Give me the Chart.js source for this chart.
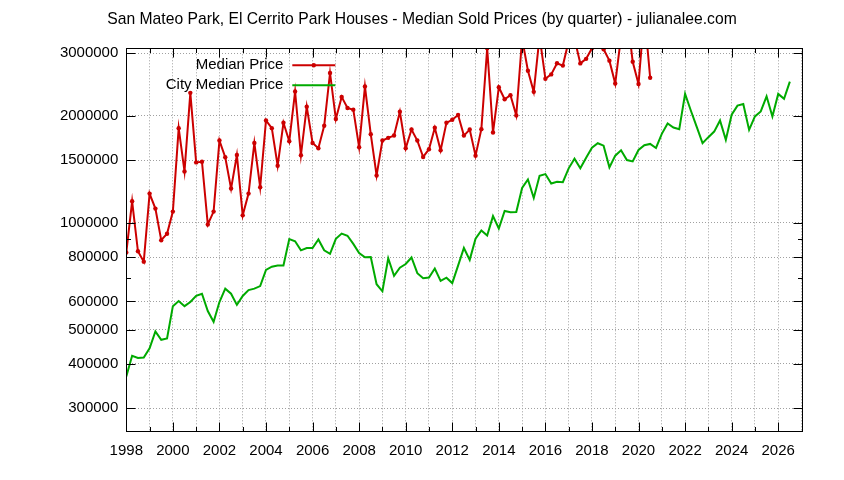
<!DOCTYPE html>
<html>
<head>
<meta charset="utf-8">
<title>San Mateo Park, El Cerrito Park Houses - Median Sold Prices</title>
<script src="https://cdn.jsdelivr.net/npm/chart.js@4.4.1/dist/chart.umd.min.js"></script>
<style>
  body { margin: 0; background: #fff; }
  canvas { display: block; }
</style>
</head>
<body>
<canvas id="priceChart" width="844" height="480"></canvas>
<script>
// quarterly medians, starting with Q1 1998
const firstYear = 1998;
const titleText = "San Mateo Park, El Cerrito Park Houses - Median Sold Prices (by quarter) - julianalee.com";
const seriesNames = ["Median Price", "City Median Price"];

const medianPrice = [
    824000, 1149000, 831000, 777000, 1208000, 1096000, 893000, 931000,
    1075000, 1847000, 1395000, 2322000, 1479000, 1485000, 989000, 1075000,
    1704000, 1529000, 1248000, 1552000, 1049000, 1208000, 1678000, 1259000,
    1941000, 1847000, 1447000, 1912000, 1697000, 2342000, 1549000, 2123000,
    1678000, 1621000, 1875000, 2642000, 1959000, 2262000, 2105000, 2082000,
    1632000, 2419000, 1776000, 1359000, 1704000, 1734000, 1760000, 2054000,
    1621000, 1830000, 1704000, 1532000, 1611000, 1851000, 1600000, 1912000,
    1950000, 2011000, 1760000, 1830000, 1545000, 1835000, 3100000, 1795000,
    2408000, 2227000, 2288000, 2006000, 3300000, 2681000, 2337000, 3350000,
    2544000, 2617000, 2814000, 2771000, 3250000, 3300000, 2811000, 2895000,
    3100000, 3400000, 3080000, 2861000, 2467000, 3350000, 3900000, 2842000,
    2460000, 3900000, 2561000,
];

const cityMedianPrice = [
    369000, 422000, 416000, 417000, 443000, 494000, 468000, 472000,
    582000, 602000, 582000, 598000, 622000, 631000, 564000, 526000,
    598000, 652000, 631000, 587000, 622000, 646000, 652000, 663000,
    736000, 752000, 758000, 758000, 899000, 887000, 836000, 849000,
    849000, 897000, 836000, 817000, 901000, 932000, 919000, 872000,
    822000, 799000, 801000, 671000, 641000, 794000, 709000, 747000,
    765000, 798000, 721000, 698000, 701000, 743000, 686000, 700000,
    676000, 757000, 849000, 786000, 901000, 951000, 920000, 1044000,
    963000, 1079000, 1070000, 1072000, 1253000, 1324000, 1174000, 1356000,
    1371000, 1290000, 1304000, 1301000, 1423000, 1515000, 1423000, 1525000,
    1627000, 1675000, 1649000, 1432000, 1545000, 1600000, 1502000, 1489000,
    1603000, 1653000, 1667000, 1624000, 1780000, 1904000, 1855000, 1835000,
    2306000, 2068000, 1863000, 1675000, 1742000, 1806000, 1941000, 1712000,
    2015000, 2137000, 2161000, 1826000, 1993000, 2059000, 2271000, 1993000,
    2306000, 2233000, 2498000,
];

const yearLabels = [1998, 2000, 2002, 2004, 2006, 2008, 2010, 2012, 2014,
    2016, 2018, 2020, 2022, 2024, 2026];
const priceLabels = [300000, 400000, 500000, 600000, 800000, 1000000,
    1500000, 2000000, 3000000];
const minorPriceTicks = [700000, 900000];

// one tick per year, labels on even years only
const yearTicks = [];
for (let y = 1998; y <= 2027; y++) yearTicks.push(y);
const priceTicks = priceLabels.concat(minorPriceTicks).sort((a, b) => a - b);

const toPoints = (values) => values.map((v, i) => ({ x: firstYear + i / 4, y: v }));

const RED = "#cc0000";
const GREEN = "#00aa00";
const FONT = "Liberation Sans";

Chart.defaults.font.family = FONT;
Chart.defaults.font.size = 15;
Chart.defaults.color = "#000";

// gnuplot style frame: box, inward ticks, title and key
const framePlugin = {
    id: "frame",
    afterDraw(chart) {
        const { ctx, chartArea: a, scales } = chart;
        const left = Math.round(a.left) + 0.5;
        const right = Math.round(a.right) + 0.5;
        const top = Math.round(a.top) + 0.5;
        const bottom = Math.round(a.bottom) + 0.5;
        ctx.save();
        ctx.strokeStyle = "#000";
        ctx.lineWidth = 1;
        ctx.setLineDash([]);
        ctx.strokeRect(left, top, right - left, bottom - top);

        ctx.beginPath();
        yearTicks.forEach((v) => {
            const x = Math.round(scales.x.getPixelForValue(v)) + 0.5;
            const len = v % 2 === 0 ? 9 : 4.5;
            ctx.moveTo(x, bottom);
            ctx.lineTo(x, bottom - len);
            ctx.moveTo(x, top);
            ctx.lineTo(x, top + len);
        });
        priceTicks.forEach((v) => {
            const y = Math.round(scales.y.getPixelForValue(v)) + 0.5;
            const len = priceLabels.includes(v) ? 9 : 4.5;
            ctx.moveTo(left, y);
            ctx.lineTo(left + len, y);
            ctx.moveTo(right, y);
            ctx.lineTo(right - len, y);
        });
        ctx.stroke();

        // title
        ctx.fillStyle = "#000";
        ctx.font = "15.7px " + FONT;
        ctx.textAlign = "center";
        ctx.textBaseline = "middle";
        ctx.fillText(titleText, chart.width / 2, 19.5);

        // key
        const colors = [RED, GREEN];
        ctx.font = "15px " + FONT;
        ctx.textAlign = "right";
        seriesNames.forEach((name, i) => {
            const y = a.top + 17 + i * 20;
            ctx.fillStyle = "#000";
            ctx.fillText(name, a.left + 157, y);
            ctx.strokeStyle = colors[i];
            ctx.lineWidth = 2;
            ctx.beginPath();
            ctx.moveTo(a.left + 166, y);
            ctx.lineTo(a.left + 209, y);
            ctx.stroke();
            if (i === 0) {
                ctx.fillStyle = RED;
                ctx.beginPath();
                ctx.arc(a.left + 187.5, y, 2.2, 0, Math.PI * 2);
                ctx.fill();
            }
        });
        ctx.restore();
    },
};

const priceChart = new Chart(document.getElementById("priceChart").getContext("2d"), {
    type: "line",
    data: {
        datasets: [
            {
                label: seriesNames[0],
                data: toPoints(medianPrice),
                borderColor: RED,
                backgroundColor: RED,
                borderWidth: 2,
                pointRadius: 2.2,
                pointBorderWidth: 0,
                tension: 0,
            },
            {
                label: seriesNames[1],
                data: toPoints(cityMedianPrice),
                borderColor: GREEN,
                backgroundColor: GREEN,
                borderWidth: 2,
                pointRadius: 0,
                tension: 0,
            },
        ],
    },
    options: {
        responsive: false,
        animation: false,
        layout: { padding: { top: 48.3, right: 42.5, left: 0, bottom: 0 } },
        plugins: {
            legend: { display: false },
            tooltip: { enabled: false },
            title: { display: false },
        },
        scales: {
            x: {
                type: "linear",
                bounds: "data",
                min: 1998,
                max: 2027,
                afterBuildTicks: (scale) => {
                    scale.ticks = yearTicks.map((v) => ({ value: v }));
                },
                afterFit: (scale) => {
                    scale.height = 49;
                },
                ticks: {
                    autoSkip: false,
                    maxRotation: 0,
                    padding: 11,
                    callback: (v) => (yearLabels.includes(v) ? String(v) : ""),
                },
                grid: { color: "#a0a0a0", lineWidth: 1, drawTicks: false },
                border: { display: false, dash: [1, 2] },
            },
            y: {
                type: "logarithmic",
                bounds: "data",
                min: 259000,
                max: 3100000,
                afterBuildTicks: (scale) => {
                    scale.ticks = priceTicks.map((v) => ({ value: v }));
                },
                afterFit: (scale) => {
                    scale.width = 126.3;
                },
                ticks: {
                    autoSkip: false,
                    padding: 8,
                    callback: (v) => (priceLabels.includes(v) ? String(v) : ""),
                },
                grid: {
                    lineWidth: 1,
                    drawTicks: false,
                    color: (c) => (c.tick && priceLabels.includes(c.tick.value) ? "#a0a0a0" : "rgba(0,0,0,0)"),
                },
                border: { display: false, dash: [1, 2] },
            },
        },
    },
    plugins: [framePlugin],
});
</script>
</body>
</html>
